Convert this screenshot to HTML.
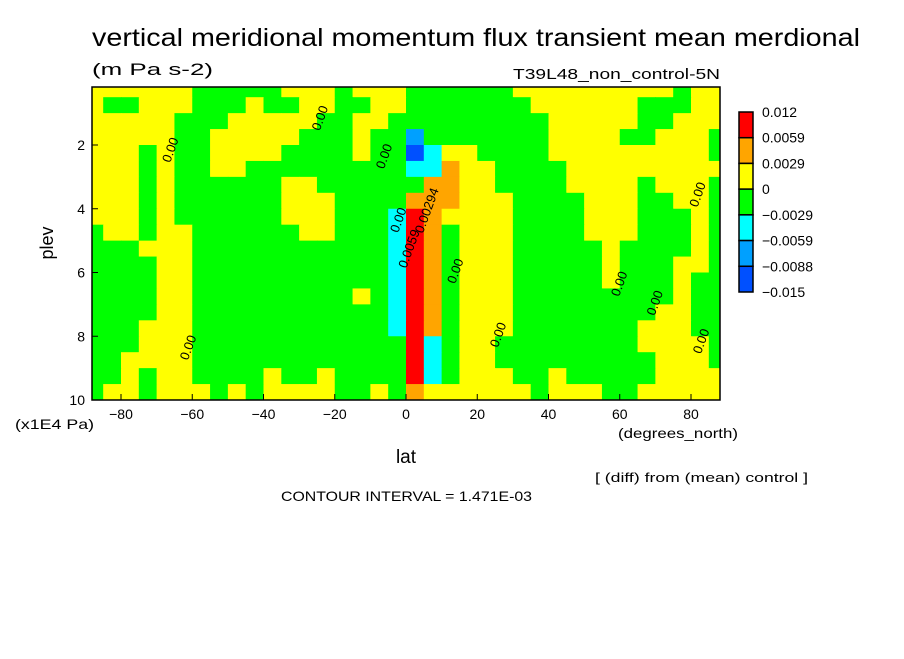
<!DOCTYPE html>
<html><head><meta charset="utf-8"><style>
body{margin:0;background:#fff;}
svg text{font-family:"Liberation Sans",sans-serif;fill:#000;}
</style></head><body>
<svg id="chart" width="904" height="654" viewBox="0 0 904 654" xmlns="http://www.w3.org/2000/svg">
<rect width="904" height="654" fill="#fff"/>
<text x="92" y="46" font-size="25" textLength="768" lengthAdjust="spacingAndGlyphs">vertical meridional momentum flux transient mean merdional</text>
<text x="92" y="75" font-size="17" textLength="121" lengthAdjust="spacingAndGlyphs">(m Pa s-2)</text>
<text x="513" y="79" font-size="15" textLength="207" lengthAdjust="spacingAndGlyphs">T39L48_non_control-5N</text>
<g id="cells"></g>
<g id="labels"></g>
<rect x="92" y="87" width="628" height="313" fill="none" stroke="#000" stroke-width="1.5"/>
<g id="axes"></g>
<text transform="translate(53,243) rotate(-90)" font-size="18" text-anchor="middle">plev</text>
<text x="15" y="429" font-size="14" textLength="79" lengthAdjust="spacingAndGlyphs">(x1E4 Pa)</text>
<text x="406" y="463" font-size="19" text-anchor="middle">lat</text>
<text x="618" y="438" font-size="14" textLength="120" lengthAdjust="spacingAndGlyphs">(degrees_north)</text>
<text x="595" y="482" font-size="13" textLength="213" lengthAdjust="spacingAndGlyphs">[ (diff) from (mean) control ]</text>
<text x="281" y="501" font-size="14" textLength="251" lengthAdjust="spacingAndGlyphs">CONTOUR INTERVAL = 1.471E-03</text>
<g id="legend"></g>
</svg>
<script>
const latEdges = [-90,-85,-80,-75,-70,-65,-60,-55,-50,-45,-40,-35,-30,-25,-20,-15,-10,-5,0,5,10,15,20,25,30,35,40,45,50,55,60,65,70,75,80,85,90];
const plevEdges = [0,0.5,1,1.5,2,2.5,3,3.5,4,4.5,5,5.5,6,6.5,7,7.5,8,8.5,9,9.5,10];
const gridRows = [
"YYYYYYGGGGGYYYGYYYGGGGGGYYYYYYYYYGYY",
"YGGYYYGGGYGGYYGGYYGGGGGGGYYYYYYGGGYY",
"YYYYYGGGYYYYYGGYYGGGGGGGGGYYYYYGGYYY",
"YYYYYGGYYYYYGGGYGGBGGGGGGGYYYYGGYYYG",
"YYYGYGGYYYYGGGGYGGDCYYGGGGYYYYYYYYYG",
"YYYGYGGYYGGGGGGGGGCCOYYGGGGYYYYYYYYY",
"YYYGYGGGGGGYYGGGGGGOOYYGGGGYYYYGYYYG",
"YYYGYGGGGGGYYYGGGGOOOYYYGGGGYYYGGYYG",
"YYYGYGGGGGGYYYGGGCROYYYYGGGGYYYGGGYG",
"GYYGYYGGGGGGYYGGGCROGYYYGGGGYYYGGGYG",
"GGGYYYGGGGGGGGGGGCROGYYYGGGGGYGGGGYG",
"GGGGYYGGGGGGGGGGGCROGYYYGGGGGYGGGYYG",
"GGGGYYGGGGGGGGGGGCROGYYYGGGGGYGGGYGG",
"GGGGYYGGGGGGGGGYGCROGYYYGGGGGGGGGYGG",
"GGGGYYGGGGGGGGGGGCROGYYYGGGGGGGGYYGG",
"GGGYYYGGGGGGGGGGGCROGYYYGGGGGGGYYYGG",
"GGGYYYGGGGGGGGGGGGRCGYYGGGGGGGGYYYYG",
"GGYYYYGGGGGGGGGGGGRCGYYGGGGGGGGGYYYG",
"GGYGYYGGGGYGGYGGGGRCGYYYGGYGGGGGYYYY",
"GYYGYYYGYGYYYYGGYGOYYYYYYGYYYGGYYYYY"];
const levelCodes = ["R","O","Y","G","C","B","D"];
const levelColors = ["#ff0000","#ffa500","#ffff00","#00ff00","#00ffff","#00a0ff","#0050ff"];
const legendLabels = ["0.012","0.0059","0.0029","0","\u22120.0029","\u22120.0059","\u22120.0088","\u22120.015"];
const xTicks = [-80,-60,-40,-20,0,20,40,60,80];
const yTicks = [2,4,6,8,10];
const contourLabels = [[-65,2.2,"0.00"],[-23,1.2,"0.00"],[-5,2.4,"0.00"],[-1,4.4,"0.00"],[2,5.3,"0.0059"],[7,4.1,"0.00294"],[15,6.0,"0.00"],[27,8.0,"0.00"],[61,6.4,"0.00"],[71,7.0,"0.00"],[83,3.6,"0.00"],[84,8.2,"0.00"],[-60,8.4,"0.00"]];
const NS="http://www.w3.org/2000/svg";
const X0=92,X1=720,Y0=87,Y1=400;
function xs(l){return 406+l*3.5625;}
function ys(p){return 400-(10-p)*31.875;}
const cells=document.getElementById('cells');
for(let r=0;r<gridRows.length;r++){
  for(let c=0;c<latEdges.length-1;c++){
    const code=gridRows[r][c];
    const k=levelCodes.indexOf(code);
    let x0=Math.max(X0,xs(latEdges[c])),x1=Math.min(X1,xs(latEdges[c+1]));
    let y0=Math.max(Y0,ys(plevEdges[r])),y1=Math.min(Y1,ys(plevEdges[r+1]));
    if(x1<=x0||y1<=y0)continue;
    const el=document.createElementNS(NS,'rect');
    
    
    el.setAttribute('x',x0);el.setAttribute('y',y0);
    el.setAttribute('width',x1-x0+0.5);el.setAttribute('height',y1-y0+0.5);
    el.setAttribute('fill',levelColors[k]);
    cells.appendChild(el);
  }
}
const lab=document.getElementById('labels');
contourLabels.forEach(d=>{
  const t=document.createElementNS(NS,'text');
  
  
  const x=xs(d[0]),y=ys(d[1]);
  t.setAttribute('transform','translate('+x+','+y+') rotate(-70)');
  t.setAttribute('font-size','13');t.setAttribute('text-anchor','middle');
  t.textContent=d[2];lab.appendChild(t);
});
const ax=document.getElementById('axes');
xTicks.forEach(v=>{
  const x=xs(v);
  const l=document.createElementNS(NS,'line');
  
  
  l.setAttribute('x1',x);l.setAttribute('x2',x);l.setAttribute('y1',Y1);l.setAttribute('y2',Y1-6);l.setAttribute('stroke','#000');
  ax.appendChild(l);
  const t=document.createElementNS(NS,'text');
  
  
  t.setAttribute('x',x);t.setAttribute('y',419);t.setAttribute('font-size','14');t.setAttribute('text-anchor','middle');
  t.textContent=v<0?'\u2212'+(-v):String(v);ax.appendChild(t);
});
yTicks.forEach(v=>{
  const y=ys(v);
  const l=document.createElementNS(NS,'line');
  
  
  l.setAttribute('x1',X0);l.setAttribute('x2',X0+6);l.setAttribute('y1',y);l.setAttribute('y2',y);l.setAttribute('stroke','#000');
  ax.appendChild(l);
  const t=document.createElementNS(NS,'text');
  
  
  t.setAttribute('x',85);t.setAttribute('y',y+5);t.setAttribute('font-size','14');t.setAttribute('text-anchor','end');
  t.textContent=String(v);ax.appendChild(t);
});
const lg=document.getElementById('legend');
const bh=180/levelColors.length;
levelColors.forEach((col,i)=>{
  const r=document.createElementNS(NS,'rect');
  
  
  r.setAttribute('x',739);r.setAttribute('y',112+i*bh);r.setAttribute('width',14);r.setAttribute('height',bh);
  r.setAttribute('fill',col);r.setAttribute('stroke','#000');r.setAttribute('stroke-width','1.5');
  lg.appendChild(r);
});
legendLabels.forEach((s,i)=>{
  const t=document.createElementNS(NS,'text');
  
  
  t.setAttribute('x',762);t.setAttribute('y',117+i*bh);t.setAttribute('font-size','14');
  t.textContent=s;lg.appendChild(t);
});
</script>
</body></html>
